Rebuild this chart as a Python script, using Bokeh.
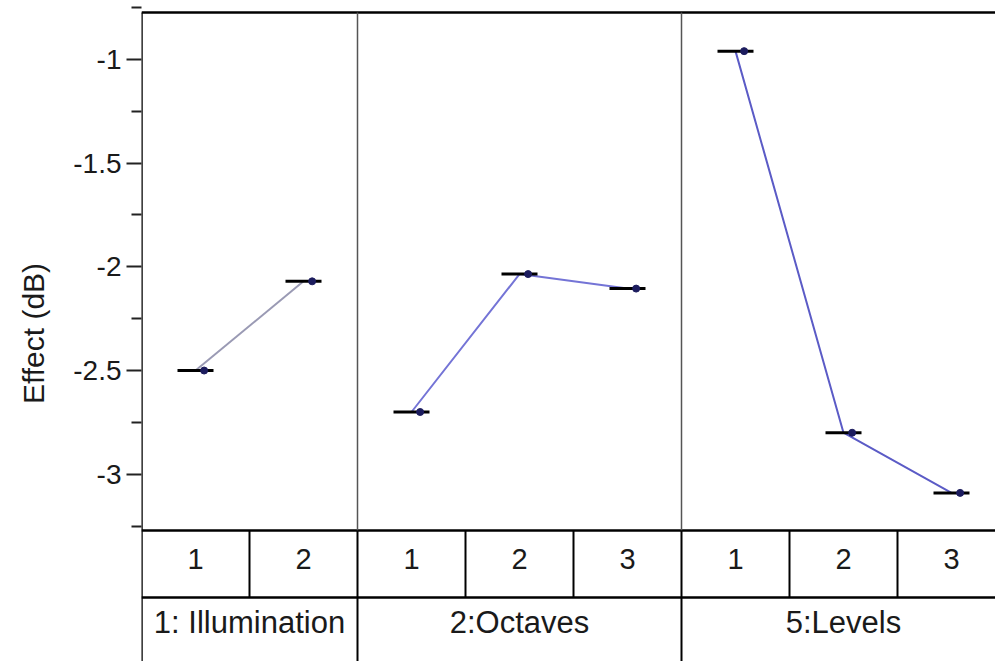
from bokeh.plotting import figure
from bokeh.models import Range1d, FixedTicker, NumeralTickFormatter
from bokeh.core.properties import value
from bokeh.embed import file_html
from bokeh.resources import INLINE

# ---- data: main effects per factor level ----
factor_names = ["1: Illumination", "2:Octaves", "5:Levels"]
illumination_levels = ["1", "2"]
octaves_levels = ["1", "2", "3"]
levels_levels = ["1", "2", "3"]
illumination_effect = [-2.50, -2.07]
octaves_effect = [-2.70, -2.035, -2.105]
levels_effect = [-0.96, -2.80, -3.09]

major_ticks = [-1.0, -1.5, -2.0, -2.5, -3.0]
minor_ticks = [-0.75, -1.25, -1.75, -2.25, -2.75, -3.25]

line_colors = ["#9a9ab4", "#7474d6", "#5b5bc6"]

# ---- layout constants (pixels) ----
W, H = 995, 661
LEFT, TOP = 141, 5
SLOT_PX = 108.0
PX_PER_DB = 207.4
Y_TOP = -0.74
X_END = (W - LEFT) / SLOT_PX
Y_BOT = Y_TOP - (H - TOP) / PX_PER_DB


def y_at(px):
    """Value on the effect axis that sits at a given pixel row."""
    return Y_TOP - (px - TOP) / PX_PER_DB


frame_top = y_at(12)
frame_bot = y_at(530)
row_div = y_at(597)
row1_mid = y_at(558)
row2_mid = y_at(622)

FONT = value("Liberation Sans")

p = figure(width=W, height=H, output_backend="svg", toolbar_location=None,
           x_range=Range1d(0, X_END), y_range=Range1d(Y_BOT, Y_TOP),
           x_axis_location=None, min_border_left=LEFT, min_border_top=TOP,
           min_border_right=0, min_border_bottom=0)
p.outline_line_color = None
p.grid.visible = False
p.background_fill_color = "white"
p.border_fill_color = "white"

ax = p.yaxis[0]
ax.ticker = FixedTicker(ticks=major_ticks, minor_ticks=minor_ticks)
ax.formatter = NumeralTickFormatter(format="0.[0]")
ax.axis_line_color = None
ax.major_tick_out = 15
ax.major_tick_in = 0
ax.minor_tick_out = 10
ax.minor_tick_in = 0
ax.major_tick_line_width = 2
ax.minor_tick_line_width = 2
ax.major_tick_line_color = "#222222"
ax.minor_tick_line_color = "#222222"
ax.major_label_standoff = 5
ax.major_label_text_font = "Liberation Sans"
ax.major_label_text_font_size = "28px"
ax.major_label_text_color = "#1a1a1a"
ax.axis_label = "Effect (dB)"
ax.axis_label_text_font = "Liberation Sans"
ax.axis_label_text_font_size = "30px"
ax.axis_label_text_font_style = "normal"
ax.axis_label_text_color = "#1a1a1a"
ax.axis_label_standoff = 20

groups = [
    (factor_names[0], illumination_levels, illumination_effect),
    (factor_names[1], octaves_levels, octaves_effect),
    (factor_names[2], levels_levels, levels_effect),
]

# ---- frame and level table ----
p.segment(x0=[0, 0, 0], y0=[frame_top, frame_bot, row_div],
          x1=[X_END] * 3, y1=[frame_top, frame_bot, row_div],
          line_color="black", line_width=2.5)
p.segment(x0=[0], y0=[frame_top], x1=[0], y1=[Y_BOT],
          line_color="black", line_width=2.5)

start = 0
group_bounds = []
level_bounds = []
for gi, (name, lvls, eff) in enumerate(groups):
    xs = [start + i + 0.5 for i in range(len(lvls))]
    p.line(xs, eff, line_color=line_colors[gi], line_width=2)
    p.scatter(xs, eff, marker="dash", size=36, line_color="black", line_width=3)
    p.scatter([x + 0.08 for x in xs], eff, marker="circle", size=7,
              fill_color="#1c1c5e", line_color="#1c1c5e")
    p.text(x=xs, y=[row1_mid] * len(xs), text=lvls, text_font=FONT,
           text_font_size="29px", text_align="center", text_baseline="middle",
           text_color="#1a1a1a")
    p.text(x=[start + len(lvls) / 2], y=[row2_mid], text=[name], text_font=FONT,
           text_font_size="31px", text_align="center", text_baseline="middle",
           text_color="#1a1a1a")
    level_bounds += [start + i for i in range(1, len(lvls))]
    start += len(lvls)
    if gi < len(groups) - 1:
        group_bounds.append(start)

# panel separators: thin grey inside the plot, black through the table
p.segment(x0=group_bounds, y0=[frame_top] * len(group_bounds),
          x1=group_bounds, y1=[frame_bot] * len(group_bounds),
          line_color="#555555", line_width=1.5)
p.segment(x0=group_bounds, y0=[frame_bot] * len(group_bounds),
          x1=group_bounds, y1=[Y_BOT] * len(group_bounds),
          line_color="black", line_width=2)
p.segment(x0=level_bounds, y0=[frame_bot] * len(level_bounds),
          x1=level_bounds, y1=[row_div] * len(level_bounds),
          line_color="black", line_width=2)

open("out.html", "w").write(file_html(p, INLINE))
